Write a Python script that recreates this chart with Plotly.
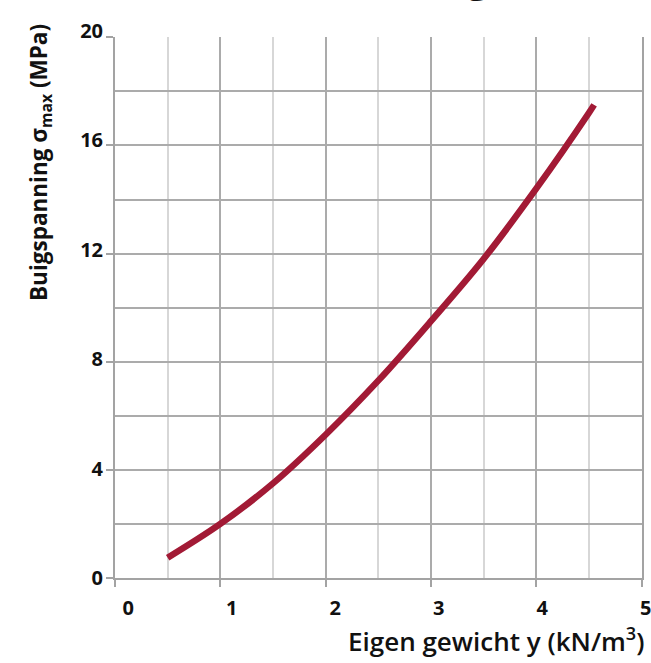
import plotly.graph_objects as go

# Bending stress versus self-weight
eigen_gewicht = [0.5, 1.0, 1.5, 2.0, 2.5, 3.0, 3.5, 4.0, 4.5, 4.55]
buigspanning = [0.75, 2.0, 3.5, 5.3, 7.3, 9.5, 11.8, 14.4, 17.2, 17.5]

x_ticks = [0, 1, 2, 3, 4, 5]
y_ticks = [0, 4, 8, 12, 16, 20]

LINE_RED = "#a21a35"
GRID_DARK = "#ababab"
GRID_LIGHT = "#d7d7d7"
AXIS_GREY = "#a3a3a3"
INK = "#111111"
FONT = "Open Sans"

fig = go.Figure()
fig.add_trace(go.Scatter(
    x=eigen_gewicht, y=buigspanning, mode="lines",
    line=dict(color=LINE_RED, width=6.5, shape="spline"),
    hoverinfo="skip", showlegend=False,
))
# empty trace that carries the label-only axes
fig.add_trace(go.Scatter(
    x=[], y=[], xaxis="x2", yaxis="y2", mode="lines",
    hoverinfo="skip", showlegend=False,
))

W, H = 651, 663
left, bottom = 115, 578
plot_right, plot_top = 641.5, 37.3
paper_top = 20
pw = W - left
ph = bottom - paper_top


def tick_font():
    return dict(family=FONT, size=20, color=INK, weight="bold")


fig.update_layout(
    width=W, height=H,
    margin=dict(l=left, r=0, t=paper_top, b=H - bottom, pad=0),
    plot_bgcolor="rgba(0,0,0,0)", paper_bgcolor="white",
    xaxis=dict(
        domain=[0, (plot_right - left) / pw], range=[0, 5],
        tickvals=x_ticks, showticklabels=False,
        ticks="outside", ticklen=7, tickwidth=1.5, tickcolor=AXIS_GREY,
        showgrid=True, gridcolor=GRID_DARK, gridwidth=1.5,
        minor=dict(dtick=0.5, showgrid=True, gridcolor=GRID_LIGHT, gridwidth=1.5),
        showline=True, linecolor=AXIS_GREY, linewidth=2,
        zeroline=False, fixedrange=True,
    ),
    yaxis=dict(
        domain=[0, (bottom - plot_top) / ph], range=[0, 20],
        tickvals=y_ticks, showticklabels=False,
        ticks="outside", ticklen=7, tickwidth=1.5, tickcolor=AXIS_GREY,
        showgrid=True, gridcolor=GRID_DARK, gridwidth=1.5,
        minor=dict(dtick=2, showgrid=True, gridcolor=GRID_DARK, gridwidth=1.5),
        showline=True, linecolor=AXIS_GREY, linewidth=2, mirror=True,
        zeroline=False, fixedrange=True,
    ),
    xaxis2=dict(
        anchor="y", side="bottom",
        domain=[0, 1], range=[-0.1285, 5.05],
        tickvals=x_ticks, ticktext=[str(v) for v in x_ticks],
        ticks="", showgrid=False, showline=False, zeroline=False,
        tickfont=tick_font(), ticklabelstandoff=16, fixedrange=True,
        ticklabeloverflow="allow",
    ),
    yaxis2=dict(
        anchor="x", side="left",
        domain=[0, 1], range=[0, 20.40],
        tickvals=y_ticks, ticktext=[str(v) for v in y_ticks],
        ticks="", showgrid=False, showline=False, zeroline=False,
        tickfont=tick_font(), ticklabelstandoff=11, fixedrange=True,
    ),
    annotations=[
        dict(
            text="Eigen gewicht y (kN/m<sup>3</sup>)",
            xref="paper", yref="paper",
            x=(647 - left) / pw, y=(bottom - 640) / ph,
            xanchor="right", yanchor="middle", showarrow=False,
            font=dict(family=FONT, size=26, color=INK, weight=600),
        ),
        dict(
            text="Buigspanning σ<sub>max</sub> (MPa)",
            xref="paper", yref="paper", textangle=-90,
            x=(40 - left) / pw, y=(bottom - 163) / ph,
            xanchor="center", yanchor="middle", showarrow=False,
            font=dict(family=FONT, size=22.5, color=INK, weight="bold"),
        ),
        dict(
            text="g",
            xref="paper", yref="paper",
            x=(478 - left) / pw, y=(bottom + 27) / ph,
            xanchor="center", yanchor="middle", showarrow=False,
            font=dict(family=FONT, size=44, color=INK, weight="bold"),
        ),
    ],
)

fig.write_html("out.html")
